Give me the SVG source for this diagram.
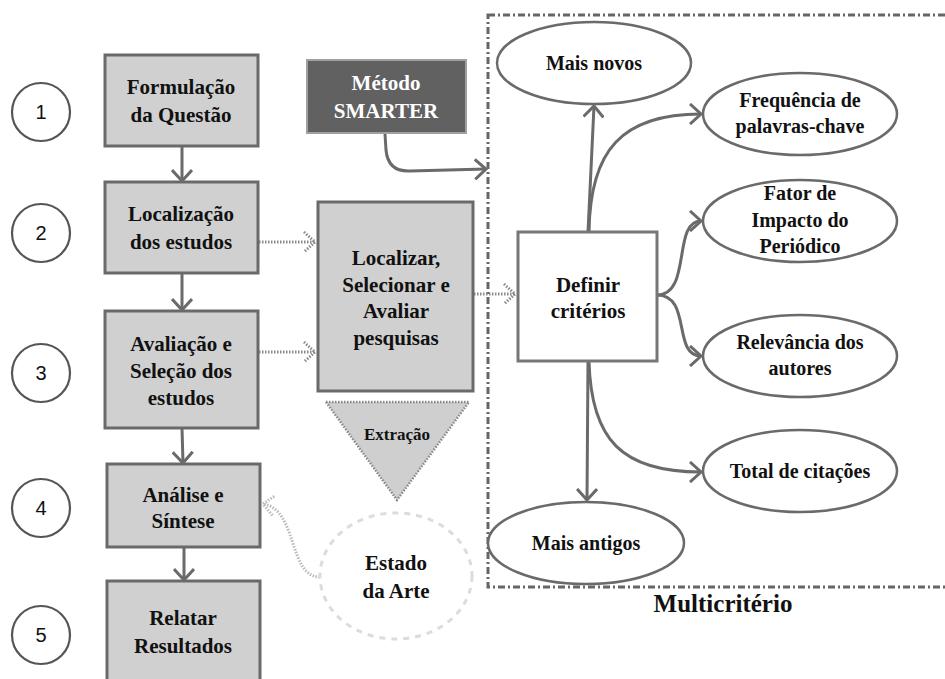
<svg xmlns="http://www.w3.org/2000/svg" width="945" height="679" viewBox="0 0 945 679" font-family="'Liberation Serif', 'Times New Roman', 'DejaVu Serif', serif">
<defs>
<style>
text{font-family:"Liberation Serif","Times New Roman","DejaVu Serif",serif;font-weight:bold;font-size:21px;fill:#111;text-anchor:middle}
text.num{font-family:"Liberation Sans",Arial,sans-serif;font-weight:normal;font-size:20px}
.el text{font-size:20px}
.box{fill:#d0d0d0;stroke:#6a6a6a;stroke-width:3}
.ell{fill:#fff;stroke:#6a6a6a;stroke-width:2.5}
.nc{fill:#fff;stroke:#555;stroke-width:2.2}
.sol{fill:none;stroke:#6a6a6a;stroke-width:3}
.dot{fill:none;stroke:#8a8a8a;stroke-width:3;stroke-dasharray:1.5 1.5}
</style>
<marker id="ah" markerUnits="userSpaceOnUse" viewBox="0 0 14 22" markerWidth="14" markerHeight="22" refX="12" refY="11" orient="auto">
<path d="M1,1 L12,11 L1,21" fill="none" stroke="#6a6a6a" stroke-width="3"/>
</marker>
<marker id="ad" markerUnits="userSpaceOnUse" viewBox="0 0 14 22" markerWidth="14" markerHeight="22" refX="12" refY="11" orient="auto">
<path d="M1,1 L12,11 L1,21" fill="none" stroke="#8a8a8a" stroke-width="3" stroke-dasharray="1.5 1.5"/>
</marker>
<marker id="al" markerUnits="userSpaceOnUse" viewBox="0 0 14 22" markerWidth="14" markerHeight="22" refX="12" refY="11" orient="auto">
<path d="M1,1 L12,11 L1,21" fill="none" stroke="#bbbbbb" stroke-width="3" stroke-dasharray="1.5 1.5"/>
</marker>
</defs>
<rect width="945" height="679" fill="#fff"/>

<g id="frame">
<rect x="488" y="15" width="480" height="572" fill="none" stroke="#666" stroke-width="3" stroke-dasharray="7 3 2 3"/>
<text x="723" y="612" style="font-size:25px">Multicritério</text>
</g>

<g id="step-numbers">
<g id="n1"><circle class="nc" cx="41" cy="112" r="29"/><text class="num" x="41" y="119">1</text></g>
<g id="n2"><circle class="nc" cx="41" cy="233" r="29"/><text class="num" x="41" y="240">2</text></g>
<g id="n3"><circle class="nc" cx="41" cy="373" r="29"/><text class="num" x="41" y="380">3</text></g>
<g id="n4"><circle class="nc" cx="41" cy="508" r="29"/><text class="num" x="41" y="515">4</text></g>
<g id="n5"><circle class="nc" cx="41" cy="635" r="29"/><text class="num" x="41" y="642">5</text></g>
</g>

<g id="connectors">
<line class="sol" x1="182" y1="146" x2="182" y2="181" marker-end="url(#ah)"/>
<line class="sol" x1="182" y1="273" x2="182" y2="310" marker-end="url(#ah)"/>
<line class="sol" x1="182" y1="428" x2="183" y2="463" marker-end="url(#ah)"/>
<line class="sol" x1="184" y1="547" x2="184" y2="580" marker-end="url(#ah)"/>
<path class="sol" d="M385 134 L386 150 Q388 172 410 171 L486 169" marker-end="url(#ah)"/>
<line class="dot" x1="259" y1="242" x2="315" y2="242" marker-end="url(#ad)"/>
<line class="dot" x1="259" y1="352" x2="315" y2="352" marker-end="url(#ad)"/>
<line class="dot" x1="474" y1="294" x2="515" y2="294" marker-end="url(#ad)"/>
<path class="dot" style="stroke:#bbb" d="M320 577 C288 577 298 509 263 504" marker-end="url(#al)"/>
<line class="sol" x1="588" y1="232" x2="594" y2="106" marker-end="url(#ah)"/>
<path class="sol" d="M589 232 C590 150 622 114 701 114" marker-end="url(#ah)"/>
<path class="sol" d="M657 295 C692 295 672 221 701 221" marker-end="url(#ah)"/>
<path class="sol" d="M657 295 C692 295 672 356 701 356" marker-end="url(#ah)"/>
<line class="sol" x1="588" y1="361" x2="587" y2="500" marker-end="url(#ah)"/>
<path class="sol" d="M589 361 C591 440 622 472 701 472" marker-end="url(#ah)"/>
</g>

<g id="formulacao"><rect class="box" x="105" y="55" width="153" height="91"/><text x="181" y="94">Formulação</text><text x="181" y="122">da Questão</text></g>
<g id="localizacao"><rect class="box" x="105" y="182" width="153" height="91"/><text x="181" y="221">Localização</text><text x="181" y="249">dos estudos</text></g>
<g id="avaliacao"><rect class="box" x="105" y="311" width="153" height="117"/><text x="181" y="351">Avaliação e</text><text x="181" y="378">Seleção dos</text><text x="181" y="405">estudos</text></g>
<g id="analise"><rect class="box" x="107" y="464" width="153" height="83"/><text x="183" y="502">Análise e</text><text x="183" y="528">Síntese</text></g>
<g id="relatar"><rect class="box" x="107" y="581" width="153" height="120"/><text x="183" y="625">Relatar</text><text x="183" y="653">Resultados</text></g>

<g id="smarter"><rect x="307" y="60" width="159" height="73" fill="#616161" stroke="#a0a0a0" stroke-width="2"/><text x="386" y="90" style="fill:#fff">Método</text><text x="386" y="118" style="fill:#fff">SMARTER</text></g>

<g id="localizar"><rect class="box" x="318" y="202" width="155" height="189"/><text x="396" y="265">Localizar,</text><text x="396" y="292">Selecionar e</text><text x="396" y="318">Avaliar</text><text x="396" y="345">pesquisas</text></g>

<g id="extracao"><polygon points="326,402 469,402 397,500" fill="#cfcfcf" stroke="#888" stroke-width="2.5" stroke-dasharray="1.5 1.5"/><text x="397" y="440" style="font-size:17px">Extração</text></g>

<g id="estado"><ellipse cx="396" cy="576" rx="76" ry="63" fill="none" stroke="#dcdcdc" stroke-width="3" stroke-dasharray="6 6"/><text x="396" y="570">Estado</text><text x="396" y="598">da Arte</text></g>

<g id="definir"><rect x="518" y="232" width="139" height="129" fill="#fff" stroke="#777" stroke-width="3"/><text x="588" y="292">Definir</text><text x="588" y="318">critérios</text></g>

<g class="el">
<g id="mais-novos"><ellipse class="ell" cx="594" cy="63" rx="97" ry="41"/><text x="594" y="70">Mais novos</text></g>
<g id="frequencia"><ellipse class="ell" cx="800" cy="114" rx="97" ry="41"/><text x="800" y="107">Frequência de</text><text x="800" y="133">palavras-chave</text></g>
<g id="fator"><ellipse class="ell" cx="800" cy="221" rx="97" ry="41"/><text x="800" y="200">Fator de</text><text x="800" y="227">Impacto do</text><text x="800" y="253">Periódico</text></g>
<g id="relevancia"><ellipse class="ell" cx="800" cy="356" rx="97" ry="41"/><text x="800" y="349">Relevância dos</text><text x="800" y="375">autores</text></g>
<g id="total"><ellipse class="ell" cx="800" cy="471" rx="97" ry="41"/><text x="800" y="478">Total de citações</text></g>
<g id="mais-antigos"><ellipse class="ell" cx="586" cy="543" rx="98" ry="41"/><text x="586" y="550">Mais antigos</text></g>
</g>
</svg>
